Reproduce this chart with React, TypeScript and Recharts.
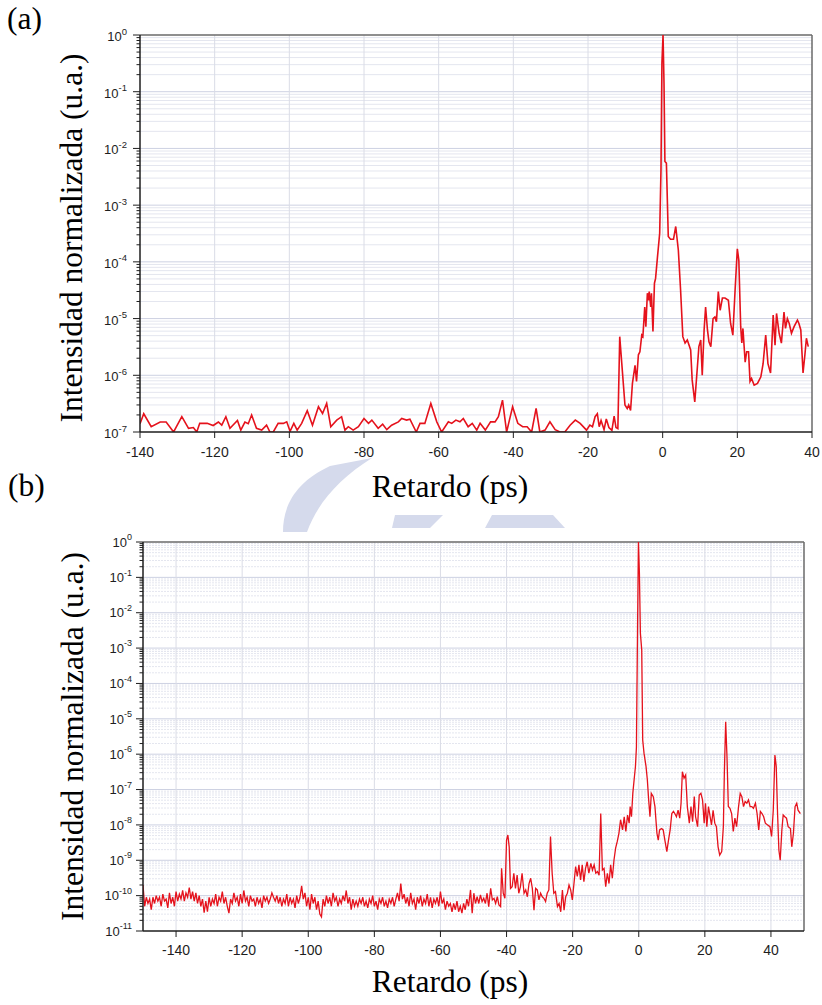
import React from "react";
import { LineChart, Line, XAxis, YAxis, ReferenceLine } from "recharts";

// ---------- (a) trace: [delay ps, normalized intensity] ----------
const topTrace: [number, number][] = [
  [-140, 1.4e-7], [-139, 2.1e-7], [-137, 1.24e-7], [-134.6, 1.5e-7], [-133, 1.5e-7], [-131, 1.0e-7],
  [-128.8, 1.86e-7], [-127, 1.16e-7], [-125.7, 1.2e-7], [-124.8, 1.0e-7], [-124, 1.42e-7], [-122, 1.42e-7],
  [-120.4, 1.3e-7], [-119, 1.5e-7], [-118.1, 1.32e-7], [-117, 1.86e-7], [-115.9, 1.16e-7], [-113.9, 1.6e-7],
  [-113, 1.08e-7], [-111.9, 1.5e-7], [-111, 1.4e-7], [-110.1, 1.99e-7], [-108.8, 1.16e-7], [-107.4, 1.08e-7],
  [-106.1, 1.32e-7], [-105.2, 1.0e-7], [-104.3, 1.0e-7], [-103, 1.42e-7], [-101.6, 1.42e-7], [-100.7, 1.51e-7],
  [-99.8, 1.03e-7], [-98.8, 1.42e-7], [-97.9, 1.08e-7], [-96.7, 1.42e-7], [-95.2, 2.37e-7], [-93.8, 1.32e-7],
  [-92.2, 2.79e-7], [-91.1, 2.12e-7], [-90, 3.19e-7], [-88.9, 1.24e-7], [-87.3, 1.62e-7], [-86, 1.86e-7],
  [-85.1, 1.08e-7], [-84.2, 1.24e-7], [-82.9, 1.08e-7], [-81.5, 1.24e-7], [-80, 1.73e-7], [-78.8, 1.42e-7],
  [-77.9, 1.62e-7], [-76.2, 1.16e-7], [-75, 1.37e-7], [-73.9, 1.1e-7], [-72.6, 1.32e-7], [-70.8, 1.51e-7],
  [-69.9, 1.73e-7], [-68.6, 1.62e-7], [-67.7, 1.68e-7], [-66, 1.0e-7], [-65, 1.42e-7], [-63.7, 1.42e-7],
  [-62.1, 3.19e-7], [-60.5, 1.51e-7], [-59.2, 1.0e-7], [-57.4, 1.51e-7], [-56.5, 1.42e-7], [-55.4, 1.62e-7],
  [-54.3, 1.51e-7], [-53.4, 1.73e-7], [-52.1, 1.24e-7], [-51, 1.42e-7], [-49.8, 1.08e-7], [-48.9, 1.42e-7],
  [-47.5, 1.08e-7], [-46.1, 1.51e-7], [-44.9, 1.51e-7], [-44, 1.86e-7], [-42.9, 3.65e-7], [-41.8, 1.0e-7],
  [-40.2, 2.79e-7], [-38.8, 1.42e-7], [-37.5, 1.24e-7], [-36.3, 1.24e-7], [-35.1, 1.0e-7], [-33.9, 2.6e-7],
  [-32.9, 1.0e-7], [-31.5, 1.08e-7], [-30.2, 1.51e-7], [-28.8, 1.1e-7], [-27.5, 1.0e-7], [-26.2, 1.0e-7],
  [-24.8, 1.32e-7], [-23.4, 1.62e-7], [-22.1, 1.42e-7], [-20.4, 1.08e-7], [-19.5, 1.32e-7], [-18.8, 1.24e-7],
  [-18.1, 1.86e-7], [-17.5, 2.1e-7], [-17, 1.24e-7], [-16.5, 1.6e-7], [-15.7, 1.1e-7], [-15.1, 1.7e-7],
  [-14.4, 1.2e-7], [-13.6, 1.07e-7], [-13, 1.9e-7], [-12.5, 1.2e-7], [-12, 1.15e-7], [-11.5, 4.8e-6],
  [-10.1, 3.0e-7], [-9.5, 2.6e-7], [-9.1, 3.0e-7], [-8.6, 2.4e-7], [-8.1, 7.2e-7], [-7.4, 1.5e-6],
  [-7, 7.8e-7], [-6.5, 2.3e-6], [-6.1, 2.6e-6], [-5.6, 5.1e-6], [-5.3, 4.8e-6], [-4.8, 1.6e-5],
  [-4.5, 7.2e-6], [-4.1, 2.8e-5], [-3.8, 2.1e-5], [-3.6, 3.0e-5], [-3.2, 1.6e-5], [-3, 2.8e-5],
  [-2.6, 5.9e-6], [-2.2, 4.2e-5], [-1.9, 5.1e-5], [-1.4, 1.2e-4], [-0.8, 3.2e-4], [-0.45, 4.2e-3],
  [-0.2, 0.32], [0.1, 1.0], [0.36, 0.14], [0.6, 5.9e-3], [1.0, 5.5e-3], [1.5, 2.8e-4],
  [2.1, 2.5e-4], [2.9, 2.5e-4], [3.5, 4.2e-4], [4.2, 1.6e-4], [4.8, 3.2e-5], [5.4, 4.8e-6],
  [6, 3.7e-6], [6.6, 4.2e-6], [7.5, 2.8e-6], [7.9, 8.3e-7], [8.6, 3.4e-7], [9.3, 1.4e-6],
  [9.7, 3.2e-6], [10.2, 4.2e-6], [10.6, 1.0e-6], [11.1, 6.3e-6], [11.5, 1.6e-5], [12, 6.3e-6],
  [12.4, 3.9e-6], [12.9, 3.2e-6], [13.5, 1.0e-5], [14, 1.07e-5], [14.4, 8.8e-6], [14.9, 3.0e-5],
  [15.4, 1.4e-5], [16, 2.3e-5], [16.7, 2.3e-5], [17.6, 2.1e-5], [18.2, 8.2e-6], [18.8, 5.1e-6],
  [19.4, 3.2e-5], [20, 1.7e-4], [20.4, 1.07e-4], [20.9, 7.2e-6], [21.2, 3.7e-6], [21.5, 6.7e-6],
  [22.1, 1.7e-6], [22.5, 2.6e-6], [23, 2.6e-6], [23.4, 7.8e-7], [23.8, 8.8e-7], [24.5, 6.7e-7],
  [25.4, 7.2e-7], [26.3, 9.4e-7], [26.9, 1.6e-6], [27.6, 5.1e-6], [28.2, 1.6e-6], [28.9, 1.1e-6],
  [29.6, 1.15e-5], [30.1, 3.4e-6], [30.5, 1.23e-5], [31.2, 5.5e-6], [31.8, 3.7e-6], [32.5, 1.3e-5],
  [32.9, 6.7e-6], [33.4, 1.0e-5], [33.9, 8.2e-6], [34.5, 5.5e-6], [35.2, 7.2e-6], [36.1, 9.4e-6],
  [36.5, 8.2e-6], [37, 6.3e-6], [37.6, 1.1e-6], [38.1, 2.3e-6], [38.5, 4.5e-6], [39, 3.2e-6],
];

// ---------- (b) background noise, -150 .. -51.5 ps ----------
const bottomNoise: [number, number][] = [
  [-150, 2.0e-10], [-149.5, 5e-11], [-149, 9e-11], [-148.5, 6e-11], [-148, 8e-11], [-147.5, 4e-11],
  [-147, 9e-11], [-146.5, 6e-11], [-146, 1.0e-10], [-145.5, 7e-11], [-145, 9e-11], [-144.5, 5e-11],
  [-144, 1.1e-10], [-143.5, 7e-11], [-143, 8e-11], [-142.5, 4.5e-11], [-142, 1.2e-10], [-141.5, 6e-11],
  [-141, 9e-11], [-140.5, 5e-11], [-140, 1.3e-10], [-139.5, 7e-11], [-139, 1.1e-10], [-138.5, 8e-11],
  [-138, 1.4e-10], [-137.5, 7e-11], [-137, 1.2e-10], [-136.5, 9e-11], [-136, 1.7e-10], [-135.5, 8e-11],
  [-135, 1.3e-10], [-134.5, 7e-11], [-134, 1.2e-10], [-133.5, 6e-11], [-133, 1.0e-10], [-132.5, 5e-11],
  [-132, 8e-11], [-131.5, 3.3e-11], [-131, 7e-11], [-130.5, 3.5e-11], [-130, 9e-11], [-129.5, 5e-11],
  [-129, 8e-11], [-128.5, 6e-11], [-128, 1.1e-10], [-127.5, 5e-11], [-127, 9e-11], [-126.5, 7e-11],
  [-126, 1.3e-10], [-125.5, 6e-11], [-125, 9e-11], [-124.5, 5e-11], [-124, 3.2e-11], [-123.5, 8e-11],
  [-123, 6e-11], [-122.5, 1.2e-10], [-122, 7e-11], [-121.5, 9e-11], [-121, 5e-11], [-120.5, 1.1e-10],
  [-120, 6e-11], [-119.5, 1.4e-10], [-119, 7e-11], [-118.5, 9e-11], [-118, 5e-11], [-117.5, 1.0e-10],
  [-117, 7e-11], [-116.5, 8e-11], [-116, 5e-11], [-115.5, 9e-11], [-115, 6e-11], [-114.5, 8e-11],
  [-114, 4.5e-11], [-113.5, 1.0e-10], [-113, 7e-11], [-112.5, 9e-11], [-112, 6e-11], [-111.5, 8e-11],
  [-111, 1.2e-10], [-110.5, 9e-11], [-110, 7e-11], [-109.5, 1.0e-10], [-109, 6e-11], [-108.5, 9e-11],
  [-108, 5e-11], [-107.5, 8e-11], [-107, 6e-11], [-106.5, 1.1e-10], [-106, 5e-11], [-105.5, 9e-11],
  [-105, 6e-11], [-104.5, 8e-11], [-104, 4.5e-11], [-103.5, 1.0e-10], [-103, 6e-11], [-102.5, 9e-11],
  [-102, 1.9e-10], [-101.5, 8e-11], [-101, 1.2e-10], [-100.5, 5e-11], [-100, 9e-11], [-99.5, 4e-11],
  [-99, 1.1e-10], [-98.5, 6e-11], [-98, 9e-11], [-97.5, 4e-11], [-97, 7e-11], [-96.5, 3e-11],
  [-96, 2.5e-11], [-95.5, 8e-11], [-95, 5e-11], [-94.5, 1.0e-10], [-94, 6e-11], [-93.5, 9e-11],
  [-93, 5e-11], [-92.5, 1.2e-10], [-92, 7e-11], [-91.5, 9e-11], [-91, 5e-11], [-90.5, 8e-11],
  [-90, 6e-11], [-89.5, 1.0e-10], [-89, 7e-11], [-88.5, 1.4e-10], [-88, 6e-11], [-87.5, 9e-11],
  [-87, 4e-11], [-86.5, 8e-11], [-86, 5e-11], [-85.5, 7e-11], [-85, 5e-11], [-84.5, 8e-11],
  [-84, 6e-11], [-83.5, 9e-11], [-83, 5e-11], [-82.5, 7e-11], [-82, 4.5e-11], [-81.5, 8e-11],
  [-81, 6e-11], [-80.5, 1.0e-10], [-80, 5e-11], [-79.5, 7e-11], [-79, 4e-11], [-78.5, 8e-11],
  [-78, 6e-11], [-77.5, 9e-11], [-77, 5e-11], [-76.5, 7e-11], [-76, 4.5e-11], [-75.5, 8e-11],
  [-75, 6e-11], [-74.5, 9e-11], [-74, 5e-11], [-73.5, 8e-11], [-73, 1.2e-10], [-72.5, 7e-11],
  [-72, 2.2e-10], [-71.5, 8e-11], [-71, 1.1e-10], [-70.5, 6e-11], [-70, 9e-11], [-69.5, 5e-11],
  [-69, 1.2e-10], [-68.5, 6e-11], [-68, 8e-11], [-67.5, 4e-11], [-67, 9e-11], [-66.5, 6e-11],
  [-66, 1.0e-10], [-65.5, 5e-11], [-65, 8e-11], [-64.5, 6e-11], [-64, 1.1e-10], [-63.5, 5e-11],
  [-63, 9e-11], [-62.5, 4.5e-11], [-62, 8e-11], [-61.5, 6e-11], [-61, 9e-11], [-60.5, 5e-11],
  [-60, 1.3e-10], [-59.5, 6e-11], [-59, 8e-11], [-58.5, 4e-11], [-58, 7e-11], [-57.5, 5e-11],
  [-57, 6e-11], [-56.5, 3.5e-11], [-56, 6e-11], [-55.5, 4e-11], [-55, 7e-11], [-54.5, 3.5e-11],
  [-54, 5e-11], [-53.5, 3.2e-11], [-53, 6e-11], [-52.5, 4e-11], [-52, 8e-11], [-51.5, 5e-11],
];

// ---------- (b) trace, -50.9 .. 48.9 ps ----------
const bottomTrace: [number, number][] = [
  [-50.9, 1.45e-10], [-50.4, 3.2e-11], [-49.9, 1.17e-10], [-49.4, 6.0e-11], [-48.9, 9.3e-11], [-48.4, 6.0e-11],
  [-47.9, 1.05e-10], [-47.4, 6.8e-11], [-46.9, 8.4e-11], [-46.4, 6.0e-11], [-45.9, 1.17e-10], [-45.4, 4.9e-11],
  [-44.8, 1.6e-10], [-44.3, 7.6e-11], [-43.8, 8.4e-11], [-43.3, 6.0e-11], [-42.8, 9.3e-11], [-42.3, 5.5e-11],
  [-41.8, 4.9e-11], [-41.5, 5.9e-10], [-41.0, 1.17e-10], [-40.5, 8.4e-11], [-40.0, 3.7e-9], [-39.6, 5.2e-9],
  [-39.2, 2.4e-9], [-38.8, 1.6e-10], [-38.3, 1.8e-10], [-37.8, 4.3e-10], [-37.3, 1.6e-10], [-36.8, 3.8e-10],
  [-36.3, 1.17e-10], [-35.8, 1.8e-10], [-35.3, 4.3e-10], [-34.7, 1.17e-10], [-34.2, 1.45e-10], [-33.7, 9.3e-11],
  [-33.2, 2.2e-10], [-32.7, 3.1e-10], [-32.2, 1.6e-10], [-31.7, 3.9e-11], [-31.2, 1.6e-10], [-30.7, 1.45e-10],
  [-30.2, 7.6e-11], [-29.7, 1.17e-10], [-29.2, 9.3e-11], [-28.7, 8.4e-11], [-28.2, 6.8e-11], [-27.7, 1.17e-10],
  [-27.2, 1.45e-10], [-26.7, 4.7e-9], [-26.2, 4.3e-10], [-25.7, 1.17e-10], [-25.2, 1.3e-10], [-24.6, 4.9e-11],
  [-24.1, 6.0e-11], [-23.6, 3.5e-11], [-23.1, 1.45e-10], [-22.6, 3.9e-11], [-22.1, 9.3e-11], [-21.6, 1.17e-10],
  [-21.1, 2.0e-10], [-20.6, 1.45e-10], [-20.1, 7.6e-11], [-19.6, 2.2e-10], [-19.1, 6.6e-10], [-18.6, 3.5e-10],
  [-18.1, 7.4e-10], [-17.6, 2.8e-10], [-17.1, 7.4e-10], [-16.6, 2.5e-10], [-16.1, 5.9e-10], [-15.6, 9.1e-10],
  [-15.1, 4.3e-10], [-14.5, 8.2e-10], [-14.0, 5.3e-10], [-13.5, 7.4e-10], [-13.0, 4.3e-10], [-12.5, 4.8e-10],
  [-12.0, 3.8e-10], [-11.5, 2.1e-8], [-11.0, 5.3e-10], [-10.5, 5.9e-10], [-10.0, 1.8e-10], [-9.5, 4.3e-10],
  [-9.0, 2.2e-10], [-8.5, 7.4e-10], [-8.0, 3.1e-10], [-7.5, 1.0e-9], [-7.0, 2.2e-9], [-6.5, 3.4e-9],
  [-6.0, 5.8e-9], [-5.5, 1.4e-8], [-4.9, 7.2e-9], [-4.4, 1.7e-8], [-3.9, 6.5e-9], [-3.4, 1.9e-8],
  [-2.9, 1.12e-8], [-2.6, 3.3e-8], [-2.2, 1.7e-8], [-1.8, 7.8e-8], [-1.4, 1.9e-7], [-1.0, 4.5e-7],
  [-0.7, 1.6e-6], [-0.4, 1.7e-3], [-0.1, 1.0], [0.2, 0.13], [0.5, 2.6e-3], [0.9, 8.9e-4],
  [1.2, 2.5e-6], [1.6, 1.05e-6], [2.2, 4.5e-7], [2.6, 1.9e-7], [3.0, 5.1e-8], [3.4, 1.7e-8],
  [3.8, 7.8e-8], [4.4, 6.3e-8], [4.9, 3.3e-8], [5.5, 5.8e-9], [5.9, 3.7e-9], [6.3, 7.2e-9],
  [6.9, 7.9e-9], [7.4, 7.2e-9], [7.9, 3.7e-9], [8.5, 1.75e-9], [9.0, 3.7e-9], [9.5, 7.2e-9],
  [10.0, 2.1e-8], [10.5, 2.4e-8], [10.9, 2.1e-8], [11.4, 1.7e-8], [11.9, 2.6e-8], [12.4, 1.55e-8],
  [12.8, 4.1e-8], [13.2, 3.2e-7], [13.7, 2.1e-7], [14.2, 2.6e-7], [14.7, 3.3e-8], [15.3, 1.12e-8],
  [15.8, 3.3e-8], [16.3, 1.23e-8], [16.8, 6.3e-8], [17.2, 1.7e-8], [17.8, 8.9e-9], [18.3, 7.0e-8],
  [18.8, 7.8e-8], [19.3, 5.1e-8], [19.8, 1.12e-8], [20.2, 4.1e-8], [20.6, 8.9e-9], [21.1, 3.3e-8],
  [21.6, 1.7e-8], [22.0, 1.0e-8], [22.5, 2.6e-8], [23.0, 1.12e-8], [23.5, 8.9e-9], [24.0, 2.4e-9],
  [24.5, 1.4e-9], [25.1, 1.75e-9], [25.6, 8.9e-9], [25.9, 2.9e-7], [26.3, 8.3e-6], [26.7, 8.5e-7],
  [27.1, 3.3e-8], [27.6, 2.95e-8], [28.1, 2.1e-8], [28.6, 6.5e-9], [29.1, 1.55e-8], [29.6, 8.9e-9],
  [30.2, 3.3e-8], [30.7, 7.8e-8], [31.2, 6.3e-8], [31.7, 3.3e-8], [32.2, 4.6e-8], [32.7, 4.1e-8],
  [33.2, 5.1e-8], [33.7, 3.3e-8], [34.2, 3.3e-8], [34.7, 2.95e-8], [35.3, 4.1e-8], [35.8, 2.1e-8],
  [36.3, 7.2e-9], [36.8, 2.4e-8], [37.3, 2.1e-8], [37.8, 1.7e-8], [38.3, 1.12e-8], [39.0, 1.0e-8],
  [39.7, 8.9e-9], [40.2, 4.7e-9], [40.7, 2.6e-8], [41.2, 9.5e-7], [41.6, 4.5e-7], [42.0, 2.1e-8],
  [42.4, 1.95e-9], [42.8, 1.0e-9], [43.3, 7.2e-9], [43.7, 1.9e-8], [44.2, 1.7e-8], [44.7, 1.55e-8],
  [45.2, 8.9e-9], [45.9, 7.9e-9], [46.3, 2.4e-9], [46.8, 5.8e-9], [47.3, 3.3e-8], [47.8, 4.1e-8],
  [48.2, 2.6e-8], [48.9, 2.1e-8],
];

const topXTicks = [-140, -120, -100, -80, -60, -40, -20, 0, 20, 40];
const bottomXTicks = [-140, -120, -100, -80, -60, -40, -20, 0, 20, 40];
const topDecades = [1e-7, 1e-6, 1e-5, 1e-4, 1e-3, 1e-2, 1e-1, 1];
const bottomDecades = [1e-11, 1e-10, 1e-9, 1e-8, 1e-7, 1e-6, 1e-5, 1e-4, 1e-3, 1e-2, 1e-1, 1];
const minorSteps = [2, 3, 4, 5, 6, 7, 8, 9];

const buildLogTicks = (decades: number[]) => {
  const out: number[] = [];
  decades.forEach((d, i) => {
    out.push(d);
    if (i < decades.length - 1) minorSteps.forEach((m) => out.push(d * m));
  });
  return out;
};

const toRows = (pts: [number, number][]) => pts.map(([t, v]) => ({ t, v }));

const topRows = toRows(topTrace);
const bottomRows = toRows([...bottomNoise, ...bottomTrace]);
const topYTicks = buildLogTicks(topDecades);
const bottomYTicks = buildLogTicks(bottomDecades);

const SANS = "'Liberation Sans', Arial, Helvetica, sans-serif";
const SERIF = "'Liberation Serif', 'Times New Roman', Times, serif";
const INK = "#1e1e1e";
const RED = "#e5121c";

type TickOpts = { decades: number[]; gap: number; font: number; expFont: number; base: number; expDy: number };

const makeLogTick = (o: TickOpts) => (props: any) => {
  const { x, y, payload } = props;
  const v = payload.value as number;
  const major = o.decades.includes(v);
  const len = major ? 7 : 3.5;
  const exp = Math.round(Math.log10(v));
  return (
    <g>
      <line x1={x} x2={x - len} y1={y} y2={y} stroke={INK} strokeWidth={1} />
      {major && (
        <text x={x - 7 - o.gap} y={y + o.base} textAnchor="end" fontFamily={SANS} fontSize={o.font} fill={INK}>
          <tspan>10</tspan>
          <tspan dy={o.expDy} fontSize={o.expFont}>{String(exp)}</tspan>
        </text>
      )}
    </g>
  );
};

const gridLines = (ticks: number[], decades: number[], xTicks: number[], xEdges: number[], dashed: boolean) => {
  const h = ticks
    .filter((v) => v !== decades[0] && v !== decades[decades.length - 1])
    .map((v) => {
      const major = decades.includes(v);
      return (
        <ReferenceLine
          key={"h" + v}
          y={v}
          stroke={major ? "#cdd1e2" : "#e4e6ef"}
          strokeWidth={1}
          strokeDasharray={dashed && !major ? "2 1" : undefined}
          zIndex={-10}
        />
      );
    });
  const vx = xTicks
    .filter((t) => !xEdges.includes(t))
    .map((t) => <ReferenceLine key={"v" + t} x={t} stroke="#dadce6" strokeWidth={1} zIndex={-10} />);
  return [...h, ...vx];
};

const TopChart = () => (
  <LineChart width={822} height={500} data={topRows} margin={{ top: 35, right: 10, bottom: 38, left: 80 }}>
    <XAxis
      type="number"
      dataKey="t"
      domain={[-140, 40]}
      ticks={topXTicks}
      interval={0}
      allowDataOverflow
      height={30}
      tickSize={6}
      tickMargin={9}
      tick={{ fontSize: 14, fill: INK, fontFamily: SANS }}
      tickLine={{ stroke: INK }}
      axisLine={{ stroke: INK, strokeWidth: 1.5 }}
    />
    <YAxis
      type="number"
      scale="log"
      domain={[1e-7, 1]}
      allowDataOverflow
      ticks={topYTicks}
      interval={0}
      width={60}
      tickSize={0}
      tickMargin={0}
      tickLine={false}
      axisLine={{ stroke: INK, strokeWidth: 1.5 }}
      tick={makeLogTick({ decades: topDecades, gap: 6, font: 13, expFont: 9.5, base: 6, expDy: -6.5 })}
    />
    {gridLines(topYTicks, topDecades, topXTicks, [-140, 40], false)}
    <ReferenceLine y={1} stroke="#6a6a6a" strokeWidth={1.5} />
    <ReferenceLine x={40} stroke="#6a6a6a" strokeWidth={1.5} />
    <Line type="linear" dataKey="v" stroke={RED} strokeWidth={1.6} dot={false} isAnimationActive={false} />
  </LineChart>
);

const BottomChart = () => (
  <LineChart width={822} height={470} data={bottomRows} margin={{ top: 42, right: 18, bottom: 9, left: 83 }}>
    <XAxis
      type="number"
      dataKey="t"
      domain={[-150, 50]}
      ticks={bottomXTicks}
      interval={0}
      allowDataOverflow
      height={30}
      tickSize={6}
      tickMargin={8}
      tick={{ fontSize: 14, fill: INK, fontFamily: SANS }}
      tickLine={{ stroke: INK }}
      axisLine={{ stroke: INK, strokeWidth: 1.5 }}
    />
    <YAxis
      type="number"
      scale="log"
      domain={[1e-11, 1]}
      allowDataOverflow
      ticks={bottomYTicks}
      interval={0}
      width={60}
      tickSize={0}
      tickMargin={0}
      tickLine={false}
      axisLine={{ stroke: INK, strokeWidth: 1.5 }}
      tick={makeLogTick({ decades: bottomDecades, gap: 4, font: 13, expFont: 9, base: 4.7, expDy: -6.5 })}
    />
    {gridLines(bottomYTicks, bottomDecades, bottomXTicks, [], true)}
    <ReferenceLine y={1} stroke="#6a6a6a" strokeWidth={1.5} />
    <ReferenceLine x={50} stroke="#6a6a6a" strokeWidth={1.5} />
    <Line type="linear" dataKey="v" stroke={RED} strokeWidth={1.3} dot={false} isAnimationActive={false} />
  </LineChart>
);

export default function App() {
  const titleStyle = { fontFamily: SERIF, fontSize: 31.5, fill: "#000" } as const;
  return (
    <div style={{ position: "absolute", left: 0, top: 0, width: 822, height: 1005, background: "#fff", overflow: "hidden" }}>
      <svg width={822} height={1005} style={{ position: "absolute", left: 0, top: 0 }}>
        <g fill="#d5daec">
          <path d="M 283 532 C 283 505 296 482 330 466 L 372 458 C 340 478 318 502 307 532 Z" />
          <path d="M 395 515 L 443 515 L 430 528 L 392 528 Z" />
          <path d="M 492 515 L 553 515 L 565 528 L 485 528 Z" />
        </g>
      </svg>
      <div style={{ position: "absolute", left: 0, top: 0 }}>
        <TopChart />
      </div>
      <div style={{ position: "absolute", left: 0, top: 500 }}>
        <BottomChart />
      </div>
      <svg width={822} height={1005} style={{ position: "absolute", left: 0, top: 0, pointerEvents: "none" }}>
        <text x={7} y={29} {...titleStyle}>(a)</text>
        <text x={8} y={496} {...titleStyle}>(b)</text>
        <text transform="translate(82,238) rotate(-90)" textAnchor="middle" {...titleStyle}>
          Intensidad normalizada (u.a.)
        </text>
        <text transform="translate(83,736.5) rotate(-90)" textAnchor="middle" {...titleStyle}>
          Intensidad normalizada (u.a.)
        </text>
        <text x={450} y={497} textAnchor="middle" {...titleStyle}>Retardo (ps)</text>
        <text x={450} y={992} textAnchor="middle" {...titleStyle}>Retardo (ps)</text>
      </svg>
    </div>
  );
}
